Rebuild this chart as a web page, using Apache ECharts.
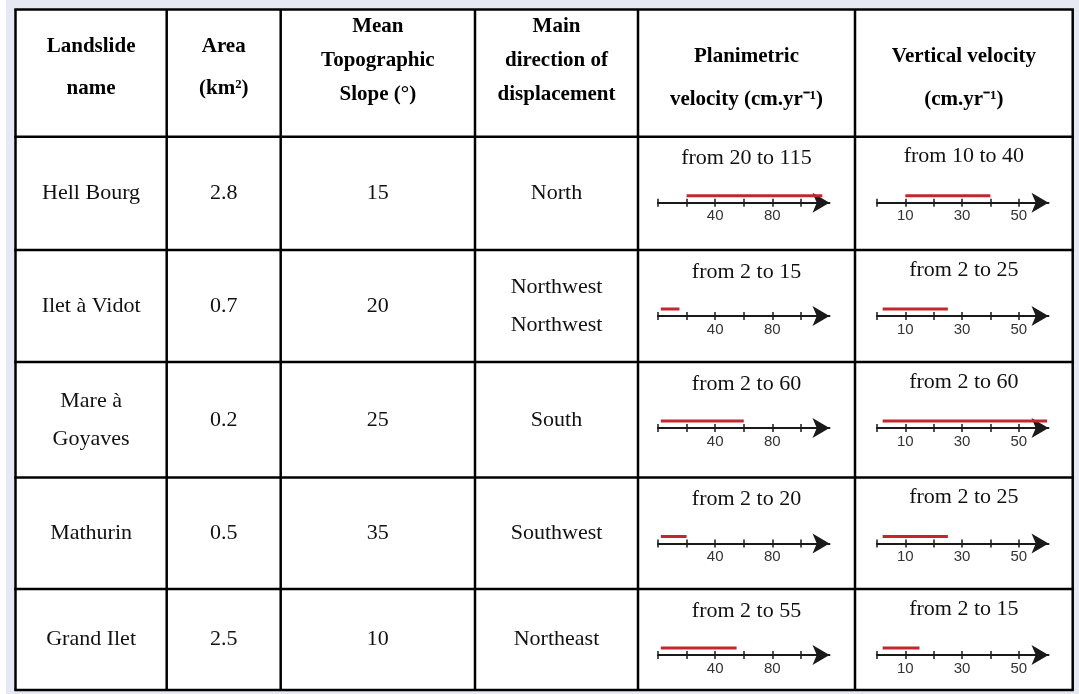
<!DOCTYPE html>
<html><head><meta charset="utf-8">
<script src="https://cdn.jsdelivr.net/npm/echarts@6/dist/echarts.min.js"></script>
<style>html,body{margin:0;padding:0;background:#fff}#c{width:1079px;height:694px}</style>
</head><body><div id="c"></div>
<script>
// ---- data ----
const headers = ['Landslide\nname', 'Area\n(km²)', 'Mean\nTopographic\nSlope (°)', 'Main\ndirection of\ndisplacement', 'Planimetric\nvelocity (cm.yr⁻¹)', 'Vertical velocity\n(cm.yr⁻¹)'];
const names = ['Hell Bourg', 'Ilet à Vidot', 'Mare à\nGoyaves', 'Mathurin', 'Grand Ilet'];
const areas = ['2.8', '0.7', '0.2', '0.5', '2.5'];
const slopes = ['15', '20', '25', '35', '10'];
const directions = ['North', 'Northwest\nNorthwest', 'South', 'Southwest', 'Northeast'];
const planFrom = [20, 2, 2, 2, 2];
const planTo = [115, 15, 60, 20, 55];
const vertFrom = [10, 2, 2, 2, 2];
const vertTo = [40, 25, 60, 25, 15];
const planTicks = [0, 20, 40, 60, 80, 100];
const planLabels = [40, 80];
const vertTicks = [0, 10, 20, 30, 40, 50];
const vertLabels = [10, 30, 50];

// ---- layout ----
const colX = [15.5, 166.7, 280.7, 475, 638, 855, 1072.7];
const rowY = [9.5, 136.7, 250, 362, 477.5, 589, 690];
const headerCenter = [68, 68, 61, 61, 78, 78];
const headerSpacing = [42, 42, 34, 34, 43, 43];
const serif = '"Liberation Serif", "Times New Roman", serif';
const sans = '"Liberation Sans", Arial, sans-serif';

const graphic = [];
graphic.push({type: 'rect', shape: {x: 6, y: 0, width: 1073, height: 694}, style: {fill: '#e6e9f3'}, z: -10});
graphic.push({type: 'rect', shape: {x: colX[0], y: rowY[0], width: colX[6] - colX[0], height: rowY[6] - rowY[0]}, style: {fill: '#fff'}, z: -9});
colX.forEach(x => graphic.push({type: 'line', shape: {x1: x, y1: rowY[0], x2: x, y2: rowY[6]}, style: {stroke: '#000', lineWidth: 2.5}, z: 5}));
rowY.forEach(y => graphic.push({type: 'line', shape: {x1: colX[0] - 1.2, y1: y, x2: colX[6] + 1.2, y2: y}, style: {stroke: '#000', lineWidth: 2.5}, z: 5}));
const cx = i => (colX[i] + colX[i + 1]) / 2;
const cy = r => (rowY[r] + rowY[r + 1]) / 2;
headers.forEach((h, i) => {
  graphic.push({type: 'text', x: cx(i), y: headerCenter[i], style: {text: h, font: 'bold 21px ' + serif, fill: '#000', align: 'center', verticalAlign: 'middle', lineHeight: headerSpacing[i]}});
});
const bodyCols = [names, areas, slopes, directions];
bodyCols.forEach((arr, i) => arr.forEach((t, r) => {
  graphic.push({type: 'text', x: cx(i), y: cy(r + 1), style: {text: t, font: '22px ' + serif, fill: '#111', align: 'center', verticalAlign: 'middle', lineHeight: 38}});
}));
for (let r = 0; r < 5; r++) {
  graphic.push({type: 'text', x: cx(4), y: rowY[r + 1] + 22, style: {text: 'from ' + planFrom[r] + ' to ' + planTo[r], font: '22px ' + serif, fill: '#111', align: 'center', verticalAlign: 'middle'}});
  graphic.push({type: 'text', x: cx(5), y: rowY[r + 1] + 20, style: {text: 'from ' + vertFrom[r] + ' to ' + vertTo[r], font: '22px ' + serif, fill: '#111', align: 'center', verticalAlign: 'middle'}});
}

// ---- mini charts ----
const grids = [], xAxes = [], yAxes = [], series = [];
const mini = [
  {left: 658, max: 120, ticks: planTicks, labels: planLabels, from: planFrom, to: planTo},
  {left: 877, max: 60.5, ticks: vertTicks, labels: vertLabels, from: vertFrom, to: vertTo}
];
for (let r = 0; r < 5; r++) {
  mini.forEach((m, k) => {
    const axisY = rowY[r + 1] + 66;
    const gi = grids.length;
    grids.push({left: m.left, top: axisY - 14, width: 171.5, height: 14});
    const common = {type: 'value', gridIndex: gi, min: 0, max: m.max, splitLine: {show: false}};
    xAxes.push(Object.assign({}, common, {
      position: 'bottom',
      axisLine: {show: true, symbol: ['none', 'arrow'], symbolSize: [15, 17], lineStyle: {color: '#1a1a1a', width: 2}},
      axisTick: {show: true, inside: false, length: 4, customValues: m.ticks, lineStyle: {color: '#1a1a1a', width: 1.5}},
      axisLabel: {show: true, customValues: m.labels, margin: 6, fontSize: 15, fontFamily: sans, color: '#333'}
    }));
    xAxes.push(Object.assign({}, common, {
      position: 'bottom',
      axisLine: {show: false},
      axisTick: {show: true, inside: true, length: 4, customValues: m.ticks, lineStyle: {color: '#1a1a1a', width: 1.5}},
      axisLabel: {show: false}
    }));
    yAxes.push({type: 'value', gridIndex: gi, min: 0, max: 2, show: false});
    series.push({
      type: 'line', xAxisIndex: xAxes.length - 2, yAxisIndex: gi, clip: false, silent: true,
      showSymbol: false, symbol: 'none',
      lineStyle: {color: '#c1272d', width: 3},
      data: [[m.from[r], 1], [m.to[r], 1]]
    });
  });
}

const chart = echarts.init(document.getElementById('c'), null, {renderer: 'canvas'});
chart.setOption({
  animation: false,
  grid: grids, xAxis: xAxes, yAxis: yAxes, series: series,
  graphic: graphic
});
</script></body></html>
